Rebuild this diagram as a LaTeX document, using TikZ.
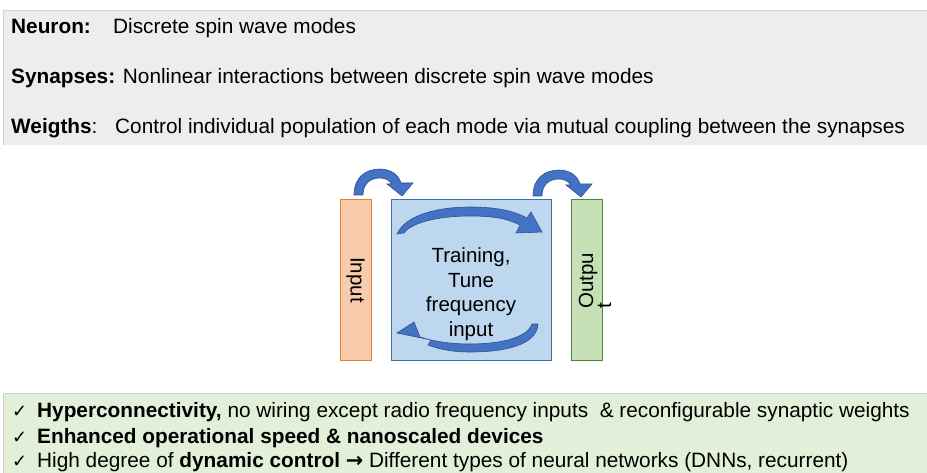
\documentclass[tikz,border=0pt]{standalone}
\usepackage{fontspec}
\setmainfont{Liberation Sans}
\newfontfamily\symfont{DejaVu Sans}
\usetikzlibrary{positioning}

\definecolor{panelgray}{HTML}{EDEDED}
\definecolor{panelgreen}{HTML}{E2F0D9}
\definecolor{panelline}{HTML}{D0D0D0}
\definecolor{inputfill}{HTML}{F8CBAD}
\definecolor{inputline}{HTML}{ED7D31}
\definecolor{netfill}{HTML}{BDD7EE}
\definecolor{netline}{HTML}{41719C}
\definecolor{outfill}{HTML}{C5E0B4}
\definecolor{outline}{HTML}{548235}
\definecolor{arrowfill}{HTML}{4472C4}
\definecolor{arrowline}{HTML}{2F528F}

\tikzset{
  txt/.style={anchor=base west, inner sep=0pt, font=\fontsize{20.8}{25}\selectfont},
  tick/.style={anchor=base west, inner sep=0pt, font=\symfont\fontsize{18}{20}\selectfont},
  bar/.style={draw=#1line, fill=#1fill, line width=1pt, minimum width=31pt, minimum height=160pt, inner sep=0pt},
  curly/.style={fill=arrowfill, draw=arrowline, line width=0.6pt},
  hop/.pic={
    \path[curly] (0,0) .. controls (0,-18) and (12,-26) .. (26,-26)
      .. controls (38,-26) and (45,-19) .. (47,-12)
      -- (59,-12) -- (48,1) -- (33,-11) -- (38,-11)
      .. controls (35,-15) and (31,-17) .. (26,-17)
      .. controls (16,-17) and (9,-11) .. (9,0) -- cycle;
  }
}

\begin{document}
\begin{tikzpicture}[x=1pt, y=-1pt]
    \useasboundingbox (0,0) rectangle (927,473);

    % top panel
    \fill[panelgray] (3,10) rectangle (927,145);
    \draw[panelline] (3,145) -- (3,10) -- (927,10);
    \node[txt] (neuronlbl) at (11,34) {\bfseries Neuron:};
    \node[txt] (neurontxt) at (113,34) {Discrete spin wave modes};
    \node[txt] (synapses) at (11,84) {\bfseries Synapses: \mdseries Nonlinear interactions between discrete spin wave modes};
    \node[txt] (weightslbl) at (11,134) {{\bfseries Weigths}:};
    \node[txt] (weightstxt) at (115,134) {Control individual population of each mode via mutual coupling between the synapses};

    % blocks
    \node[bar=input] (input) at (355.5,280) {};
    \node[rotate=-90, font=\fontsize{20.5}{24}\selectfont] (inputtxt) at (input.center) {Input};
    \node[bar=net, minimum width=160pt] (net) at (471,280) {};
    \node[align=center, font=\fontsize{20.5}{24.5}\selectfont] (nettxt) at (471,294) {Training,\\Tune\\frequency\\input};
    \node[bar=out] (output) at (587,280) {};
    \node[rotate=90, align=left, font=\fontsize{20.5}{18}\selectfont] (outputtxt) at (595,281) {Outpu\\t};

    % curved arrows
    \pic at (354,195) {hop};
    \pic at (533,196) {hop};
    \path[curly] (397,234) .. controls (406,214) and (440,207) .. (470,207)
      .. controls (500,207) and (516,212) .. (527,218)
      -- (531,212) -- (542,232) -- (516,233) -- (520,225)
      .. controls (508,219) and (495,216) .. (470,216)
      .. controls (440,216) and (412,222) .. (404,233) -- cycle;
    \path[curly] (538,324) .. controls (537,345) and (505,352) .. (470,352)
      .. controls (452,352) and (438,349) .. (428,345)
      -- (431,340) -- (397,333) -- (414,322) -- (420,337)
      .. controls (432,341) and (450,344) .. (470,344)
      .. controls (500,344) and (527,338) .. (532,324) -- cycle;

    % bottom panel
    \fill[panelgreen] (3,393) rectangle (927,473);
    \draw[panelline] (3,473) -- (3,393) -- (927,393);
    \node[tick] (tick1) at (12,417) {✓};
    \node[txt] (pro1) at (37,417) {\bfseries Hyperconnectivity, \mdseries no wiring except radio frequency inputs \ \& reconfigurable synaptic weights};
    \node[tick] (tick2) at (12,443) {✓};
    \node[txt] (pro2) at (37,443) {\bfseries Enhanced operational speed \& nanoscaled devices};
    \node[tick] (tick3) at (12,467) {✓};
    \node[txt] (pro3) at (37,467) {High degree of \textbf{dynamic control} {\symfont\bfseries →} Different types of neural networks (DNNs, recurrent)};
\end{tikzpicture}
\end{document}
